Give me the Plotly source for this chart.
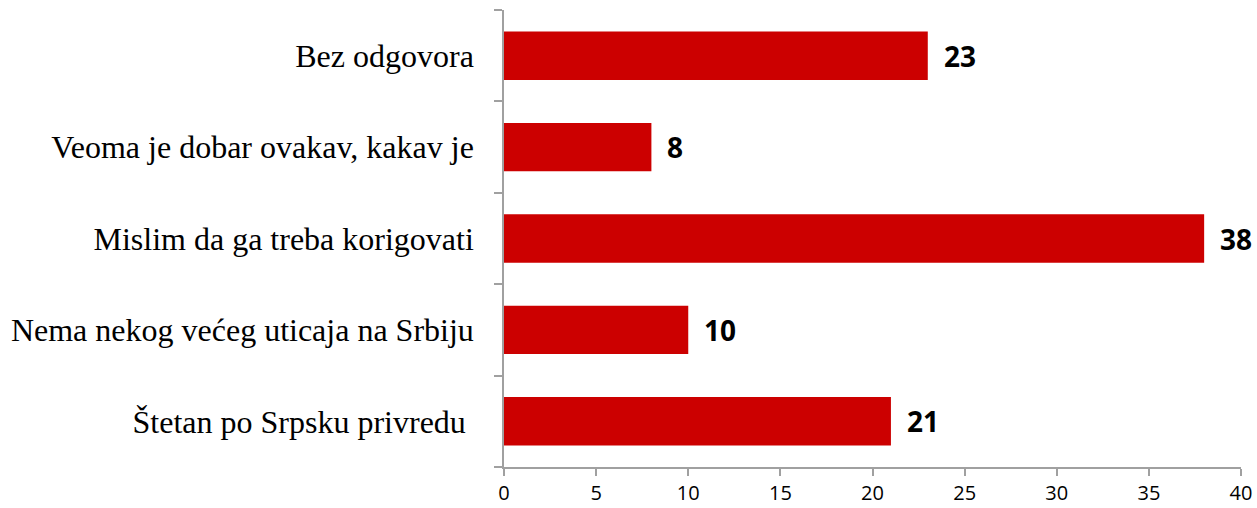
import plotly.graph_objects as go

categories = [
    "Štetan po Srpsku privredu\u00a0",
    "Nema nekog većeg uticaja na Srbiju",
    "Mislim da ga treba korigovati",
    "Veoma je dobar ovakav, kakav je",
    "Bez odgovora",
]
values = [21, 10, 38, 8, 23]
x_ticks = [0, 5, 10, 15, 20, 25, 30, 35, 40]

fig = go.Figure()
fig.add_trace(go.Bar(
    y=categories, x=values, orientation="h",
    marker=dict(color="#CC0000", line=dict(width=0)),
    hoverinfo="skip",
))

for c, v in zip(categories, values):
    fig.add_annotation(
        x=v, y=c, text=f"<b>{v}</b>", showarrow=False,
        xanchor="left", yanchor="middle", xshift=14,
        font=dict(family="Open Sans", size=28, color="#000000"),
    )

axis_col = "#A0A0A0"
fig.update_layout(
    width=1257, height=508,
    margin=dict(l=504, r=16, t=10, b=41, autoexpand=False),
    paper_bgcolor="white", plot_bgcolor="white",
    bargap=0.47,
    showlegend=False,
    xaxis=dict(
        range=[0, 40], tickvals=x_ticks, ticktext=[str(t) for t in x_ticks],
        showgrid=False, zeroline=False, automargin=False,
        showline=True, linecolor=axis_col, linewidth=1.5,
        ticks="outside", ticklen=7, tickcolor=axis_col, tickwidth=1.5,
        tickfont=dict(family="Open Sans", size=20, color="#000000"),
        fixedrange=True,
    ),
    yaxis=dict(
        type="category", categoryorder="array", categoryarray=categories,
        showgrid=False, zeroline=False, automargin=False,
        showline=True, linecolor=axis_col, linewidth=1.5,
        ticks="outside", ticklen=8, tickcolor=axis_col, tickwidth=1.5,
        tickson="boundaries",
        ticklabelstandoff=22,
        tickfont=dict(family="Liberation Serif", size=32, color="#000000"),
        fixedrange=True,
    ),
)

fig.write_html("out.html", config={"displayModeBar": False},
               post_script="document.body.style.margin='0';")
